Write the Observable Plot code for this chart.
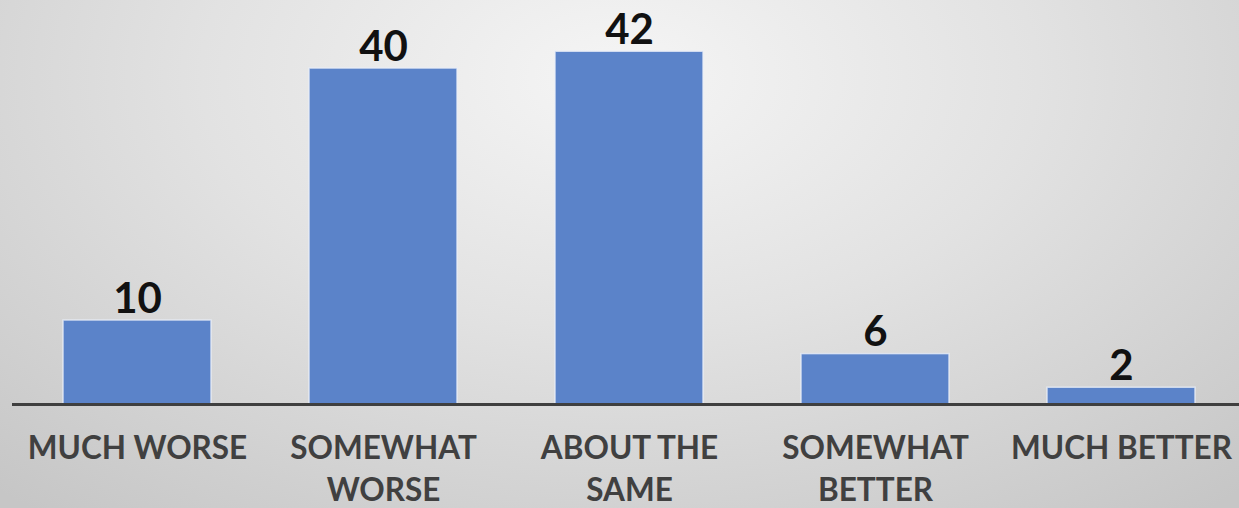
<!DOCTYPE html>
<html>
<head>
<meta charset="utf-8">
<script src="https://cdn.jsdelivr.net/npm/d3@7"></script>
<script src="https://cdn.jsdelivr.net/npm/@observablehq/plot@0.6"></script>
<style>
  html, body { margin: 0; padding: 0; }
  body {
    width: 1239px; height: 508px; overflow: hidden;
    background: radial-gradient(ellipse 75% 110% at 50% 15%, #f5f5f5 0%, #e2e2e2 45%, #c6c6c6 100%);
  }
  #chart svg { display: block; background: transparent; }
</style>
</head>
<body>
<div id="chart"></div>
<script>
const categories = ["MUCH WORSE", "SOMEWHAT WORSE", "ABOUT THE SAME", "SOMEWHAT BETTER", "MUCH BETTER"];
const tickLabels = ["MUCH WORSE", "SOMEWHAT\nWORSE", "ABOUT THE\nSAME", "SOMEWHAT\nBETTER", "MUCH BETTER"];
const values = [10, 40, 42, 6, 2];

const data = categories.map((c, i) => ({category: c, value: values[i]}));
const labelOf = new Map(categories.map((c, i) => [c, tickLabels[i]]));

const chart = Plot.plot({
  width: 1239,
  height: 508,
  marginTop: 0,
  marginLeft: 12,
  marginRight: 0,
  marginBottom: 104,
  style: {background: "transparent", fontFamily: "Lato, 'Open Sans', sans-serif"},
  x: {domain: categories, range: [12.7, 1245.7], paddingInner: 0.4, paddingOuter: 0.2, label: null},
  y: {domain: [0, 48.1], axis: null},
  marks: [
    Plot.barY(data, {x: "category", y: "value", fill: "#5b83c9", stroke: "#e8eef8", strokeWidth: 1.5, strokeOpacity: 0.8}),
    Plot.ruleY([0], {stroke: "#3f3f3f", strokeWidth: 3}),
    Plot.text(data, {x: "category", y: "value", text: d => String(d.value), lineAnchor: "bottom", dy: -8, fontSize: 42, fontWeight: "bold", fill: "#111"}),
    Plot.axisX({tickSize: 0, tickPadding: 25, fontSize: 31.5, fontWeight: "bold", fill: "#404040", lineHeight: 1.32, tickFormat: d => labelOf.get(d), label: null})
  ]
});
document.getElementById("chart").append(chart);
</script>
</body>
</html>
